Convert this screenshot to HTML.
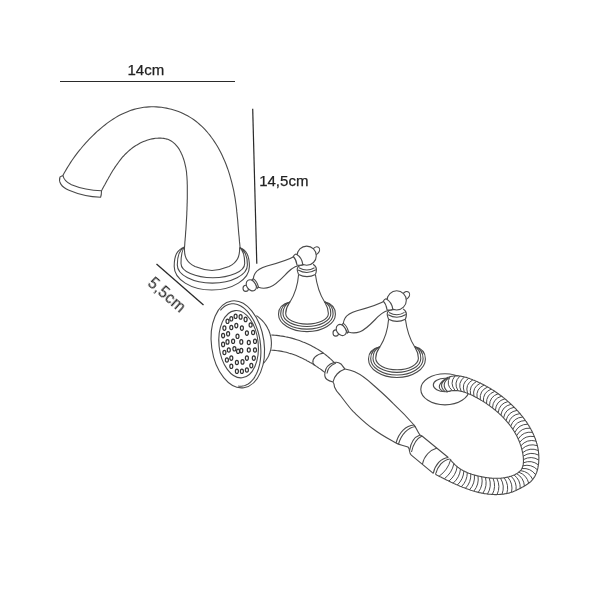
<!DOCTYPE html>
<html><head><meta charset="utf-8"><style>
html,body{margin:0;padding:0;background:#fff;}
svg{display:block;font-family:"Liberation Sans",sans-serif;}
text{will-change:transform;}
</style></head><body>
<svg width="600" height="600" viewBox="0 0 600 600">
<line x1="60" y1="81.5" x2="235" y2="81.5" stroke="#2a2a2a" stroke-width="1.2"/>
<line x1="252.7" y1="108.7" x2="256.8" y2="263.8" stroke="#2a2a2a" stroke-width="1.2"/>
<line x1="156.5" y1="264" x2="203.5" y2="305" stroke="#2a2a2a" stroke-width="1.3"/>
<text x="127.5" y="74.8" font-size="15" fill="#222" stroke="#222" stroke-width="0.25">14cm</text>
<text x="259.2" y="186" font-size="15" fill="#222" stroke="#222" stroke-width="0.25">14,5cm</text>
<text transform="translate(146.8,284.6) rotate(41)" font-size="15.6" letter-spacing="0.3" fill="#222" stroke="#222" stroke-width="0.1">5,5cm</text>
<path stroke="#4a4a4a" stroke-width="1.1" fill="none" d="M63.0,175.3 L64.2,173.1 L65.4,171.0 L66.6,168.9 L67.9,166.8 L69.2,164.7 L70.5,162.6 L71.9,160.5 L73.3,158.5 L74.8,156.4 L76.3,154.4 L77.8,152.4 L79.4,150.4 L81.0,148.5 L82.6,146.5 L84.3,144.6 L86.0,142.7 L87.7,140.8 L89.5,138.9 L91.3,137.1 L93.1,135.3 L95.0,133.5 L96.9,131.7 L98.9,130.0 L100.8,128.3 L102.8,126.6 L104.9,125.0 L106.9,123.4 L109.0,121.9 L111.2,120.4 L113.3,119.0 L115.5,117.6 L117.7,116.3 L120.0,115.1 L122.2,113.9 L124.5,112.9 L126.9,111.9 L129.2,110.9 L131.6,110.1 L134.0,109.4 L136.4,108.7 L138.9,108.2 L141.4,107.7 L143.9,107.3 L146.4,107.1 L148.9,106.9 L151.4,106.8 L153.9,106.8 L156.4,106.9 L158.9,107.1 L161.5,107.3 L164.0,107.7 L166.4,108.1 L168.9,108.7 L171.4,109.3 L173.8,110.0 L176.2,110.7 L178.5,111.6 L180.9,112.5 L183.1,113.6 L185.4,114.7 L187.6,115.8 L189.8,117.1 L191.9,118.4 L193.9,119.8 L195.9,121.3 L197.9,122.8 L199.7,124.5 L201.6,126.1 L203.4,127.9 L205.1,129.7 L206.8,131.5 L208.4,133.5 L210.0,135.4 L211.5,137.5 L213.0,139.5 L214.4,141.6 L215.8,143.8 L217.2,146.0 L218.5,148.2 L219.7,150.5 L220.9,152.8 L222.0,155.1 L223.1,157.5 L224.2,159.9 L225.2,162.3 L226.2,164.7 L227.1,167.2 L228.0,169.6 L228.8,172.1 L229.6,174.6 L230.3,177.1 L231.0,179.6 L231.7,182.1 L232.3,184.6 L232.9,187.1 L233.5,189.6 L234.0,192.1 L234.4,194.6 L234.9,197.1 L235.3,199.6 L235.6,202.0 L236.0,204.5 L236.3,207.0 L236.6,209.4 L236.8,211.9 L237.1,214.4 L237.3,216.8 L237.6,219.3 L237.8,221.8 L238.0,224.3 L238.2,226.7 L238.4,229.2 L238.6,231.7 L238.8,234.3 L239.1,236.8 L239.3,239.3 L239.5,241.9 L239.8,244.4 L240.0,247.0"/>
<path stroke="#4a4a4a" stroke-width="1.1" fill="none" d="M101.5,190.7 L102.3,189.3 L103.1,187.8 L103.9,186.3 L104.8,184.8 L105.6,183.3 L106.4,181.8 L107.2,180.3 L108.1,178.8 L108.9,177.3 L109.8,175.8 L110.6,174.3 L111.5,172.8 L112.4,171.3 L113.3,169.8 L114.3,168.4 L115.2,166.9 L116.2,165.5 L117.2,164.1 L118.2,162.7 L119.2,161.3 L120.3,159.9 L121.3,158.6 L122.4,157.2 L123.6,156.0 L124.8,154.7 L126.0,153.5 L127.2,152.3 L128.5,151.1 L129.8,150.0 L131.2,148.9 L132.6,147.8 L134.0,146.8 L135.5,145.8 L137.0,144.9 L138.6,144.0 L140.2,143.1 L141.8,142.3 L143.5,141.6 L145.2,140.9 L146.9,140.3 L148.6,139.8 L150.3,139.3 L152.0,138.9 L153.8,138.6 L155.5,138.3 L157.2,138.2 L158.9,138.1 L160.6,138.1 L162.2,138.2 L163.8,138.4 L165.4,138.7 L166.9,139.1 L168.4,139.6 L169.8,140.3 L171.2,141.0 L172.5,141.9 L173.7,142.8 L174.9,143.9 L176.0,145.1 L177.1,146.4 L178.1,147.7 L179.1,149.1 L179.9,150.6 L180.8,152.2 L181.5,153.8 L182.3,155.4 L182.9,157.1 L183.5,158.8 L184.1,160.6 L184.6,162.4 L185.0,164.1 L185.4,165.9 L185.8,167.7 L186.1,169.5 L186.4,171.2 L186.6,173.0 L186.7,174.8 L186.9,176.5 L187.0,178.3 L187.1,180.0 L187.2,181.7 L187.2,183.5 L187.3,185.2 L187.3,186.9 L187.3,188.6 L187.3,190.4 L187.3,192.1 L187.3,193.8 L187.3,195.5 L187.3,197.2 L187.3,198.9 L187.2,200.6 L187.2,202.4 L187.1,204.1 L187.1,205.8 L187.0,207.5 L187.0,209.2 L186.9,210.9 L186.8,212.6 L186.8,214.3 L186.7,216.0 L186.6,217.7 L186.5,219.4 L186.4,221.1 L186.3,222.8 L186.2,224.5 L186.1,226.2 L186.0,228.0 L185.9,229.7 L185.7,231.4 L185.6,233.1 L185.5,234.8 L185.4,236.6 L185.2,238.3 L185.1,240.1 L184.9,241.8 L184.8,243.5 L184.7,245.3 L184.5,247.1"/>
<path stroke="#4a4a4a" stroke-width="1.1" fill="none" d="M63,175.5 C62,176 60.3,176.4 60,177 C58.3,181.5 61,187 69,190.3 C76,193.3 86,196.8 100.6,197.3 C101.5,195 101.5,192 101.5,190.8 C92,190.6 80,188.3 71.5,184.8 C66.5,182.3 63.5,179 63,175.5 Z"/>
<path stroke="#4a4a4a" stroke-width="1.1" fill="none" d="M184.5,247 C184,256 186,262 195,266.6 C202,269.5 208,270.3 212,270.5 C216,270.3 222,269.5 229,266.6 C238,262 239.7,256 239.7,247.5"/>
<path stroke="#4a4a4a" stroke-width="1.1" fill="none" d="M184.5,247 C182.40,249.47 181.0,254.43 181.0,263.5 C181.0,271.39 195.27,277.8 212.85,277.8 C230.43,277.8 244.7,271.39 244.7,263.5 C244.7,254.70 242.70,249.90 239.7,247.5"/>
<path stroke="#4a4a4a" stroke-width="1.1" fill="none" d="M184.5,247 C179.46,249.70 177.3,255.10 177.3,265.0 C177.3,274.99 193.00,283.1 212.35,283.1 C231.70,283.1 247.4,274.99 247.4,265.0 C247.4,255.38 245.09,250.12 239.7,247.5"/>
<path stroke="#4a4a4a" stroke-width="1.1" fill="none" d="M184.5,247 C176.77,249.93 174.2,255.78 174.2,266.5 C174.2,279.47 191.04,290.0 211.80,290.0 C232.56,290.0 249.4,279.47 249.4,266.5 C249.4,256.05 246.97,250.35 239.7,247.5"/>
<g transform="translate(0,0)"><path stroke="#4a4a4a" stroke-width="1.1" fill="none" d="M290,302 C281.95,303.83 278.5,307.49 278.5,314.2 C278.5,323.80 291.25,331.6 306.95,331.6 C322.65,331.6 335.4,323.80 335.4,314.2 C335.4,307.38 332.13,303.66 324.5,301.8"/><path stroke="#4a4a4a" stroke-width="1.1" fill="none" d="M290,302 C283.95,303.80 280.7,307.40 280.7,314.0 C280.7,322.34 292.44,329.1 306.90,329.1 C321.36,329.1 333.1,322.34 333.1,314.0 C333.1,307.29 330.09,303.63 324.5,301.8"/><path stroke="#4a4a4a" stroke-width="1.1" fill="none" d="M290,302 C286.15,303.77 283.0,307.31 283.0,313.8 C283.0,320.81 293.71,326.5 306.90,326.5 C320.09,326.5 330.8,320.81 330.8,313.8 C330.8,307.20 327.97,303.60 324.5,301.8"/><path stroke="#4a4a4a" stroke-width="1.1" fill="none" d="M290,302 C288.93,303.74 285.7,307.22 285.7,313.6 C285.7,319.40 295.26,324.1 307.05,324.1 C318.84,324.1 328.4,319.40 328.4,313.6 C328.4,307.11 325.48,303.57 324.5,301.8"/><path stroke="#4a4a4a" stroke-width="1.1" fill="none" d="M298.6,274.5 C297.8,285 295,294 290,302 M315.4,274.5 C316.8,285 319.5,294 324.5,301.8"/><path fill="#fff" stroke="none" d="M302.3,264.4 C299,265.5 297.2,267.5 297.2,269.3 C297.2,271.5 298,273 298.6,274.5 C301,276.8 313,276.8 315.4,274.5 C316,273 316.5,271.5 316.4,269.3 C316.4,267.5 315,265.5 313.1,264.2 Z"/><path stroke="#4a4a4a" stroke-width="1.1" fill="none" d="M302.3,264.4 C299,265.5 297.2,267.5 297.2,269.3 C297.2,271.5 298,273 298.6,274.5 M313.1,264.2 C315,265.5 316.4,267.5 316.4,269.3 C316.5,271.5 316,273 315.4,274.5"/><path stroke="#4a4a4a" stroke-width="1.1" fill="none" d="M299,267.7 Q307,272.3 314.5,267.7 M298.1,270 Q307,275.2 315.9,269.8 M298.6,274.5 Q307,278.8 315.4,274.5"/><ellipse cx="315.8" cy="250.8" rx="3.3" ry="4.4" transform="rotate(40 315.8 250.8)" stroke="#4a4a4a" stroke-width="1.1" fill="#fff"/><circle cx="306.7" cy="255.7" r="9.6" stroke="#4a4a4a" stroke-width="1.1" fill="#fff"/><path stroke="#4a4a4a" stroke-width="1.1" fill="#fff" d="M296,255.5 C291,258.5 282,262 267,266 C262,267.5 257,270 255,273.5 C253.8,275.5 253.3,278.7 253.3,278.7 L258.5,287.3 C262,288.5 266,288.5 270,287 C276,285 282,278 288,272 C292,268 297,265 302.7,265 Z"/><path stroke="#4a4a4a" stroke-width="1.1" fill="#fff" d="M293.3,256.5 C294,255 295,254.3 296,254 C299.5,256 302.3,260 302.8,264.5 C301.5,265.5 299.5,265.5 297,265 C296.5,261.5 295.3,258.5 293.3,256.5 Z"/><ellipse cx="245.8" cy="288.3" rx="2.8" ry="3.1" stroke="#4a4a4a" stroke-width="1.1" fill="#fff"/><ellipse cx="251.3" cy="285.3" rx="4.6" ry="6" transform="rotate(-35 251.3 285.3)" stroke="#4a4a4a" stroke-width="1.1" fill="#fff"/><path stroke="#4a4a4a" stroke-width="1.1" fill="#fff" d="M253.3,278.7 C255.5,280 257.5,283 258.5,287.3 L257.3,288.3 C256,284.5 254.5,281.5 252,280 Z"/></g>
<g transform="translate(90,44.7)"><path stroke="#4a4a4a" stroke-width="1.1" fill="none" d="M290,302 C281.95,303.83 278.5,307.49 278.5,314.2 C278.5,324.47 291.25,332.8 306.95,332.8 C322.65,332.8 335.4,324.47 335.4,314.2 C335.4,307.38 332.13,303.66 324.5,301.8"/><path stroke="#4a4a4a" stroke-width="1.1" fill="none" d="M290,302 C283.95,303.80 280.7,307.40 280.7,314.0 C280.7,323.00 292.44,330.3 306.90,330.3 C321.36,330.3 333.1,323.00 333.1,314.0 C333.1,307.29 330.09,303.63 324.5,301.8"/><path stroke="#4a4a4a" stroke-width="1.1" fill="none" d="M290,302 C286.15,303.77 283.0,307.31 283.0,313.8 C283.0,321.47 293.71,327.7 306.90,327.7 C320.09,327.7 330.8,321.47 330.8,313.8 C330.8,307.20 327.97,303.60 324.5,301.8"/><path stroke="#4a4a4a" stroke-width="1.1" fill="none" d="M290,302 C288.93,303.74 285.7,307.22 285.7,313.6 C285.7,319.93 295.26,325.06 307.05,325.06 C318.84,325.06 328.4,319.93 328.4,313.6 C328.4,307.11 325.48,303.57 324.5,301.8"/><path stroke="#4a4a4a" stroke-width="1.1" fill="none" d="M298.6,274.5 C297.8,285 295,294 290,302 M315.4,274.5 C316.8,285 319.5,294 324.5,301.8"/><path fill="#fff" stroke="none" d="M302.3,264.4 C299,265.5 297.2,267.5 297.2,269.3 C297.2,271.5 298,273 298.6,274.5 C301,276.8 313,276.8 315.4,274.5 C316,273 316.5,271.5 316.4,269.3 C316.4,267.5 315,265.5 313.1,264.2 Z"/><path stroke="#4a4a4a" stroke-width="1.1" fill="none" d="M302.3,264.4 C299,265.5 297.2,267.5 297.2,269.3 C297.2,271.5 298,273 298.6,274.5 M313.1,264.2 C315,265.5 316.4,267.5 316.4,269.3 C316.5,271.5 316,273 315.4,274.5"/><path stroke="#4a4a4a" stroke-width="1.1" fill="none" d="M299,267.7 Q307,272.3 314.5,267.7 M298.1,270 Q307,275.2 315.9,269.8 M298.6,274.5 Q307,278.8 315.4,274.5"/><ellipse cx="315.8" cy="250.8" rx="3.3" ry="4.4" transform="rotate(40 315.8 250.8)" stroke="#4a4a4a" stroke-width="1.1" fill="#fff"/><circle cx="306.7" cy="255.7" r="9.6" stroke="#4a4a4a" stroke-width="1.1" fill="#fff"/><path stroke="#4a4a4a" stroke-width="1.1" fill="#fff" d="M296,255.5 C291,258.5 282,262 267,266 C262,267.5 257,270 255,273.5 C253.8,275.5 253.3,278.7 253.3,278.7 L258.5,287.3 C262,288.5 266,288.5 270,287 C276,285 282,278 288,272 C292,268 297,265 302.7,265 Z"/><path stroke="#4a4a4a" stroke-width="1.1" fill="#fff" d="M293.3,256.5 C294,255 295,254.3 296,254 C299.5,256 302.3,260 302.8,264.5 C301.5,265.5 299.5,265.5 297,265 C296.5,261.5 295.3,258.5 293.3,256.5 Z"/><ellipse cx="245.8" cy="288.3" rx="2.8" ry="3.1" stroke="#4a4a4a" stroke-width="1.1" fill="#fff"/><ellipse cx="251.3" cy="285.3" rx="4.6" ry="6" transform="rotate(-35 251.3 285.3)" stroke="#4a4a4a" stroke-width="1.1" fill="#fff"/><path stroke="#4a4a4a" stroke-width="1.1" fill="#fff" d="M253.3,278.7 C255.5,280 257.5,283 258.5,287.3 L257.3,288.3 C256,284.5 254.5,281.5 252,280 Z"/></g>
<path stroke="#4a4a4a" stroke-width="1.1" fill="none" d="M256.3,315.6 L257.6,316.4 L258.8,317.3 L259.9,318.3 L261.0,319.3 L262.1,320.3 L263.0,321.4 L264.0,322.5 L264.9,323.7 L265.7,324.9 L266.5,326.1 L267.3,327.4 L267.9,328.7 L268.6,330.0 L269.1,331.3 L269.6,332.7 L270.1,334.1 L270.4,335.5 L270.8,336.9 L271.0,338.3 L271.2,339.7 L271.3,341.1 L271.4,342.6 L271.4,344.0 L271.3,345.4 L271.2,346.9 L271.0,348.3 L270.7,349.7 L270.3,351.1 L269.9,352.5 L269.4,353.8 L268.9,355.2 L268.3,356.5 L267.6,357.8 L266.8,359.0 L266.0,360.3 L265.0,361.5 L264.1,362.6 L263.0,363.7 L261.9,364.8"/>
<path stroke="#4a4a4a" stroke-width="1.1" fill="none" d="M271.3,335.0 L273.1,335.1 L274.9,335.3 L276.6,335.4 L278.4,335.6 L280.2,335.9 L281.9,336.1 L283.7,336.4 L285.5,336.8 L287.2,337.1 L289.0,337.5 L290.7,337.9 L292.5,338.4 L294.2,338.9 L295.9,339.4 L297.7,340.0 L299.4,340.6 L301.1,341.2 L302.8,341.9 L304.5,342.5 L306.1,343.2 L307.8,344.0 L309.4,344.8 L311.0,345.6 L312.6,346.4 L314.2,347.3 L315.8,348.2 L317.3,349.1 L318.9,350.0 L320.4,351.0 L321.9,352.0 L323.3,353.1 L324.8,354.1 L326.2,355.2 L327.6,356.3 L328.9,357.5 L330.2,358.7 L331.6,359.9 L332.8,361.1 L334.1,362.4"/>
<path stroke="#4a4a4a" stroke-width="1.1" fill="none" d="M271.3,350.3 L272.8,350.3 L274.4,350.4 L275.9,350.5 L277.4,350.7 L278.9,350.9 L280.4,351.1 L281.9,351.4 L283.4,351.7 L284.8,352.0 L286.3,352.3 L287.8,352.7 L289.2,353.2 L290.7,353.6 L292.1,354.1 L293.5,354.6 L294.9,355.1 L296.3,355.6 L297.8,356.2 L299.1,356.8 L300.5,357.4 L301.9,358.1 L303.3,358.7 L304.6,359.4 L306.0,360.1 L307.3,360.9 L308.6,361.6 L310.0,362.4 L311.3,363.1 L312.6,363.9 L313.9,364.7 L315.1,365.5 L316.4,366.4 L317.7,367.2 L318.9,368.1 L320.2,368.9 L321.4,369.8 L322.6,370.7 L323.8,371.6 L325.0,372.5"/>
<path stroke="#4a4a4a" stroke-width="1.1" fill="none" d="M324,353 C316,354 312,359 313,363 C313.3,364 314,364.5 314.5,365"/>
<ellipse cx="237.8" cy="344.3" rx="26.3" ry="43.8" transform="rotate(-8 237.8 344.3)" stroke="#4a4a4a" stroke-width="1.1" fill="#fff"/>
<path stroke="#4a4a4a" stroke-width="1.1" fill="none" d="M220.4,310.3 L221.3,309.3 L222.2,308.3 L223.2,307.5 L224.1,306.7 L225.2,306.0 L226.2,305.4 L227.2,304.9 L228.3,304.5 L229.4,304.2 L230.5,304.0 L231.6,303.8 L232.8,303.8 L233.9,303.8 L235.1,304.0 L236.2,304.2 L237.4,304.5 L238.5,304.9 L239.7,305.5 L240.8,306.1 L241.9,306.7 L243.1,307.5 L244.2,308.4 L245.3,309.3 L246.3,310.3 L247.4,311.4 L248.4,312.6 L249.4,313.9 L250.4,315.2 L251.3,316.6 L252.2,318.0 L253.1,319.5 L253.9,321.1 L254.7,322.7 L255.4,324.4 L256.1,326.1 L256.8,327.9 L257.4,329.7 L258.0,331.5 L258.5,333.4 L259.0,335.3 L259.4,337.2 L259.8,339.1 L260.1,341.1 L260.3,343.1 L260.6,345.0 L260.7,347.0 L260.8,348.9 L260.9,350.9 L260.9,352.8 L260.8,354.7 L260.7,356.6 L260.5,358.5 L260.3,360.3 L260.0,362.1 L259.7,363.9 L259.3,365.6 L258.8,367.3 L258.4,368.9 L257.8,370.5 L257.2,372.0 L256.6,373.4 L255.9,374.8 L255.2,376.1 L254.5,377.4 L253.7,378.6 L252.8,379.7 L251.9,380.7 L251.0,381.6 L250.1,382.5 L249.1,383.3 L248.1,384.0 L247.1,384.6 L246.0,385.1 L244.9,385.5 L243.9,385.8 L242.7,386.0 L241.6,386.2 L240.5,386.2 L239.3,386.2 L238.2,386.0"/>
<ellipse cx="238.6" cy="344.2" rx="19.6" ry="33.8" transform="rotate(-6 238.6 344.2)" stroke="#4a4a4a" stroke-width="1.1" fill="none"/>
<ellipse cx="227.5" cy="321.3" rx="1.5" ry="2.2" stroke="#333" stroke-width="1.2" fill="none"/>
<ellipse cx="231.3" cy="318.8" rx="1.5" ry="2.2" stroke="#333" stroke-width="1.2" fill="none"/>
<ellipse cx="235.6" cy="316.3" rx="1.5" ry="2.2" stroke="#333" stroke-width="1.2" fill="none"/>
<ellipse cx="240.6" cy="316.9" rx="1.5" ry="2.2" stroke="#333" stroke-width="1.2" fill="none"/>
<ellipse cx="245.6" cy="319.4" rx="1.5" ry="2.2" stroke="#333" stroke-width="1.2" fill="none"/>
<ellipse cx="250.6" cy="325" rx="1.5" ry="2.2" stroke="#333" stroke-width="1.2" fill="none"/>
<ellipse cx="253.1" cy="332.5" rx="1.5" ry="2.2" stroke="#333" stroke-width="1.2" fill="none"/>
<ellipse cx="255" cy="341.3" rx="1.5" ry="2.2" stroke="#333" stroke-width="1.2" fill="none"/>
<ellipse cx="255" cy="350" rx="1.5" ry="2.2" stroke="#333" stroke-width="1.2" fill="none"/>
<ellipse cx="253.8" cy="358.1" rx="1.5" ry="2.2" stroke="#333" stroke-width="1.2" fill="none"/>
<ellipse cx="251.3" cy="365.6" rx="1.5" ry="2.2" stroke="#333" stroke-width="1.2" fill="none"/>
<ellipse cx="246.9" cy="370" rx="1.5" ry="2.2" stroke="#333" stroke-width="1.2" fill="none"/>
<ellipse cx="241.9" cy="371.3" rx="1.5" ry="2.2" stroke="#333" stroke-width="1.2" fill="none"/>
<ellipse cx="236.9" cy="371.3" rx="1.5" ry="2.2" stroke="#333" stroke-width="1.2" fill="none"/>
<ellipse cx="231.3" cy="366.3" rx="1.5" ry="2.2" stroke="#333" stroke-width="1.2" fill="none"/>
<ellipse cx="226.9" cy="360" rx="1.5" ry="2.2" stroke="#333" stroke-width="1.2" fill="none"/>
<ellipse cx="224.4" cy="352.5" rx="1.5" ry="2.2" stroke="#333" stroke-width="1.2" fill="none"/>
<ellipse cx="223.1" cy="344.4" rx="1.5" ry="2.2" stroke="#333" stroke-width="1.2" fill="none"/>
<ellipse cx="223.1" cy="335.6" rx="1.5" ry="2.2" stroke="#333" stroke-width="1.2" fill="none"/>
<ellipse cx="224.4" cy="328.1" rx="1.5" ry="2.2" stroke="#333" stroke-width="1.2" fill="none"/>
<ellipse cx="231.3" cy="327.5" rx="1.5" ry="2.2" stroke="#333" stroke-width="1.2" fill="none"/>
<ellipse cx="236.3" cy="325.6" rx="1.5" ry="2.2" stroke="#333" stroke-width="1.2" fill="none"/>
<ellipse cx="241.9" cy="328.1" rx="1.5" ry="2.2" stroke="#333" stroke-width="1.2" fill="none"/>
<ellipse cx="246.9" cy="333.1" rx="1.5" ry="2.2" stroke="#333" stroke-width="1.2" fill="none"/>
<ellipse cx="248.8" cy="342.5" rx="1.5" ry="2.2" stroke="#333" stroke-width="1.2" fill="none"/>
<ellipse cx="248.8" cy="350" rx="1.5" ry="2.2" stroke="#333" stroke-width="1.2" fill="none"/>
<ellipse cx="246.9" cy="358.1" rx="1.5" ry="2.2" stroke="#333" stroke-width="1.2" fill="none"/>
<ellipse cx="242.5" cy="361.9" rx="1.5" ry="2.2" stroke="#333" stroke-width="1.2" fill="none"/>
<ellipse cx="236.9" cy="362.5" rx="1.5" ry="2.2" stroke="#333" stroke-width="1.2" fill="none"/>
<ellipse cx="231.3" cy="358.1" rx="1.5" ry="2.2" stroke="#333" stroke-width="1.2" fill="none"/>
<ellipse cx="228.8" cy="350" rx="1.5" ry="2.2" stroke="#333" stroke-width="1.2" fill="none"/>
<ellipse cx="227.5" cy="341.9" rx="1.5" ry="2.2" stroke="#333" stroke-width="1.2" fill="none"/>
<ellipse cx="228.1" cy="333.8" rx="1.5" ry="2.2" stroke="#333" stroke-width="1.2" fill="none"/>
<ellipse cx="237.5" cy="336.3" rx="1.5" ry="2.2" stroke="#333" stroke-width="1.2" fill="none"/>
<ellipse cx="241.3" cy="341.9" rx="1.5" ry="2.2" stroke="#333" stroke-width="1.2" fill="none"/>
<ellipse cx="233.1" cy="341.3" rx="1.5" ry="2.2" stroke="#333" stroke-width="1.2" fill="none"/>
<ellipse cx="234.4" cy="348.8" rx="1.5" ry="2.2" stroke="#333" stroke-width="1.2" fill="none"/>
<ellipse cx="238.1" cy="351.3" rx="1.5" ry="2.2" stroke="#333" stroke-width="1.2" fill="none"/>
<ellipse cx="241.3" cy="350.6" rx="1.5" ry="2.2" stroke="#333" stroke-width="1.2" fill="none"/>
<path stroke="#4a4a4a" stroke-width="1.1" fill="none" d="M334,362.5 C336,362 339,362.3 341,364 C342.5,365.5 343,367 345,369 M325,372.5 C324.5,375 325,378 327,379.5 C329,381 331,381.5 333,382"/>
<path stroke="#4a4a4a" stroke-width="1.1" fill="none" d="M334,362.5 C329,364 325.5,368 325,372.5 M336,363 C331,365 327.5,369 327,373.5"/>
<path stroke="#4a4a4a" stroke-width="1.1" fill="none" d="M345,369 C339,371 334,376 333,382"/>
<path stroke="#4a4a4a" stroke-width="1.1" fill="none" d="M345,369 C348,369.5 352,370.5 354.7,371.7 C362,375 368,380 373.3,385 C380,391 387,397 393.3,403.7 C400,410 407,417 414,425"/>
<path stroke="#4a4a4a" stroke-width="1.1" fill="none" d="M333,382 C334.5,384 334.5,386 334.5,387 C336,391 338,393 340,395 C344,400 348,406 353.3,411.7 C360,418 366,424 373.3,429 C381,435 389,439 396,443"/>
<path stroke="#4a4a4a" stroke-width="1.1" fill="none" d="M414,425 C406,425.5 399,432 396,443 M415.5,426.5 C408,427.5 401.5,434 398.5,444"/>
<path stroke="#4a4a4a" stroke-width="1.1" fill="none" d="M414,425 C416,427 417,431 420,435 M396,443 C399,445 403,445 408,447 C409,448 409.5,450 409.5,451"/>
<path stroke="#4a4a4a" stroke-width="1.1" fill="none" d="M420,435 C414,437 410.5,444 409.5,451 M422,436 C416.5,438.5 413,445 411.5,452"/>
<path stroke="#4a4a4a" stroke-width="1.1" fill="none" d="M420,435 C421,435.5 421.5,435.6 422,436 L448.3,457.5 M409.5,451 C409.8,453 410.2,454.2 411.3,455.2 L433.3,473.3"/>
<path stroke="#4a4a4a" stroke-width="1.1" fill="none" d="M437,448 C430,450 424,456 422.5,464"/>
<path stroke="#4a4a4a" stroke-width="1.1" fill="none" d="M448.3,457.5 C441,458 435,465 433.3,473.3 M450,459 C443,460 437.5,466 435.5,474.5"/>
<ellipse cx="445" cy="389.3" rx="24.2" ry="15.6" stroke="#4a4a4a" stroke-width="1.1" fill="none"/>
<ellipse cx="445" cy="385" rx="11.7" ry="6.7" stroke="#4a4a4a" stroke-width="1.1" fill="none"/>
<path d="M435.6,474.4 L436.4,474.8 L437.1,475.2 L437.9,475.6 L438.6,476.0 L439.4,476.4 L440.2,476.8 L440.9,477.1 L441.7,477.5 L442.5,477.9 L443.3,478.3 L444.0,478.7 L444.8,479.1 L445.6,479.5 L446.4,479.9 L447.2,480.3 L448.0,480.6 L448.7,481.0 L449.5,481.4 L450.3,481.8 L451.1,482.2 L451.9,482.5 L452.7,482.9 L453.5,483.3 L454.3,483.7 L455.2,484.0 L456.0,484.4 L456.8,484.7 L457.6,485.1 L458.4,485.5 L459.2,485.8 L460.0,486.2 L460.9,486.5 L461.7,486.8 L462.5,487.2 L463.3,487.5 L464.2,487.8 L465.0,488.1 L465.8,488.4 L466.6,488.7 L467.5,489.0 L468.3,489.3 L469.2,489.6 L470.0,489.9 L470.8,490.2 L471.7,490.5 L472.5,490.7 L473.4,491.0 L474.2,491.2 L475.1,491.5 L475.9,491.7 L476.7,491.9 L477.6,492.1 L478.4,492.4 L479.3,492.6 L480.2,492.7 L481.0,492.9 L481.9,493.1 L482.7,493.3 L483.6,493.4 L484.4,493.6 L485.3,493.7 L486.2,493.8 L487.0,494.0 L487.9,494.1 L488.7,494.2 L489.6,494.3 L490.5,494.3 L491.3,494.4 L492.2,494.5 L493.1,494.5 L493.9,494.5 L494.8,494.6 L495.7,494.6 L496.6,494.6 L497.4,494.5 L498.3,494.5 L499.2,494.5 L500.0,494.4 L500.9,494.4 L501.8,494.3 L502.7,494.2 L503.5,494.1 L504.4,493.9 L505.3,493.8 L506.1,493.6 L507.0,493.5 L507.8,493.3 L508.7,493.1 L509.5,492.9 L510.4,492.6 L511.2,492.3 L512.0,492.1 L512.9,491.8 L513.7,491.4 L514.5,491.1 L515.3,490.7 L516.1,490.4 L516.9,490.0 L517.7,489.6 L518.5,489.2 L519.3,488.8 L520.1,488.4 L520.9,488.0 L521.7,487.5 L522.5,487.1 L523.3,486.7 L524.1,486.2 L524.9,485.8 L525.7,485.3 L526.4,484.8 L527.2,484.3 L527.9,483.8 L528.6,483.3 L529.3,482.7 L530.0,482.2 L530.7,481.6 L531.3,481.0 L531.9,480.4 L532.5,479.7 L533.0,479.0 L533.5,478.3 L534.0,477.6 L534.5,476.9 L534.9,476.2 L535.3,475.4 L535.7,474.6 L536.0,473.8 L536.4,473.0 L536.7,472.2 L537.0,471.3 L537.2,470.5 L537.5,469.6 L537.7,468.8 L537.9,467.9 L538.0,467.0 L538.2,466.2 L538.3,465.3 L538.5,464.4 L538.6,463.5 L538.7,462.6 L538.7,461.8 L538.8,460.9 L538.8,460.0 L538.8,459.1 L538.9,458.3 L538.9,457.4 L538.8,456.5 L538.8,455.6 L538.7,454.8 L538.7,453.9 L538.6,453.1 L538.5,452.2 L538.4,451.3 L538.3,450.5 L538.2,449.6 L538.0,448.8 L537.9,447.9 L537.7,447.1 L537.5,446.3 L537.3,445.4 L537.1,444.6 L536.9,443.7 L536.6,442.9 L536.4,442.1 L536.1,441.3 L535.8,440.4 L535.6,439.6 L535.3,438.8 L535.0,438.0 L534.6,437.2 L534.3,436.4 L534.0,435.6 L533.6,434.8 L533.3,434.0 L532.9,433.2 L532.5,432.4 L532.1,431.6 L531.7,430.8 L531.3,430.0 L530.9,429.3 L530.5,428.5 L530.0,427.7 L529.6,426.9 L529.1,426.2 L528.7,425.4 L528.2,424.7 L527.7,423.9 L527.2,423.2 L526.8,422.4 L526.3,421.7 L525.7,421.0 L525.2,420.2 L524.7,419.5 L524.2,418.8 L523.6,418.1 L523.1,417.4 L522.5,416.7 L522.0,416.0 L521.4,415.3 L520.8,414.6 L520.3,413.9 L519.7,413.2 L519.1,412.5 L518.5,411.9 L517.9,411.2 L517.3,410.5 L516.7,409.9 L516.1,409.2 L515.5,408.6 L514.8,407.9 L514.2,407.3 L513.6,406.7 L513.0,406.1 L512.3,405.4 L511.7,404.8 L511.0,404.2 L510.4,403.6 L509.7,403.0 L509.1,402.4 L508.4,401.8 L507.8,401.3 L507.1,400.7 L506.5,400.1 L505.8,399.5 L505.1,399.0 L504.4,398.4 L503.8,397.9 L503.1,397.4 L502.4,396.8 L501.7,396.3 L501.0,395.8 L500.3,395.2 L499.6,394.7 L498.9,394.2 L498.2,393.7 L497.5,393.2 L496.8,392.7 L496.1,392.2 L495.4,391.8 L494.7,391.3 L494.0,390.8 L493.2,390.3 L492.5,389.9 L491.8,389.4 L491.0,389.0 L490.3,388.5 L489.6,388.1 L488.8,387.6 L488.1,387.2 L487.3,386.8 L486.5,386.4 L485.8,385.9 L485.0,385.5 L484.2,385.1 L483.5,384.7 L482.7,384.3 L481.9,383.9 L481.1,383.5 L480.3,383.1 L479.5,382.7 L478.7,382.4 L477.9,382.0 L477.1,381.6 L476.3,381.3 L475.5,380.9 L474.7,380.6 L473.9,380.2 L473.0,379.9 L472.2,379.5 L471.4,379.2 L470.5,378.9 L469.7,378.6 L468.9,378.3 L468.0,378.0 L467.2,377.7 L466.3,377.4 L465.5,377.2 L464.6,377.0 L463.8,376.8 L462.9,376.6 L462.0,376.4 L461.2,376.2 L460.3,376.1 L459.4,376.0 L458.6,375.9 L457.7,375.9 L456.9,375.9 L456.0,375.9 L455.1,375.9 L454.3,375.9 L453.4,376.0 L452.5,376.2 L451.7,376.3 L450.8,376.5 L449.9,376.7 L449.1,377.0 L448.2,377.3 L447.4,377.6 L446.5,378.0 L446.0,392.0 L446.7,391.8 L447.4,391.6 L448.1,391.4 L448.8,391.2 L449.5,391.1 L450.2,390.9 L450.9,390.8 L451.6,390.7 L452.3,390.7 L453.0,390.6 L453.7,390.6 L454.3,390.6 L455.0,390.6 L455.7,390.6 L456.3,390.6 L457.0,390.6 L457.7,390.7 L458.3,390.8 L459.0,390.9 L459.6,391.0 L460.3,391.1 L460.9,391.2 L461.6,391.4 L462.2,391.5 L462.9,391.7 L463.5,391.9 L464.1,392.1 L464.8,392.3 L465.4,392.5 L466.0,392.7 L466.7,392.9 L467.3,393.2 L467.9,393.4 L468.5,393.7 L469.2,393.9 L469.8,394.2 L470.4,394.5 L471.0,394.8 L471.6,395.0 L472.2,395.3 L472.8,395.6 L473.4,395.9 L474.0,396.2 L474.6,396.6 L475.2,396.9 L475.8,397.2 L476.4,397.5 L477.0,397.8 L477.6,398.2 L478.2,398.5 L478.8,398.8 L479.4,399.2 L480.0,399.5 L480.6,399.9 L481.2,400.2 L481.8,400.6 L482.3,400.9 L482.9,401.3 L483.5,401.6 L484.1,402.0 L484.6,402.4 L485.2,402.8 L485.8,403.1 L486.4,403.5 L486.9,403.9 L487.5,404.3 L488.0,404.7 L488.6,405.1 L489.2,405.5 L489.7,405.9 L490.3,406.3 L490.8,406.7 L491.4,407.1 L491.9,407.5 L492.4,407.9 L493.0,408.3 L493.5,408.7 L494.0,409.2 L494.6,409.6 L495.1,410.0 L495.6,410.4 L496.1,410.9 L496.7,411.3 L497.2,411.8 L497.7,412.2 L498.2,412.7 L498.7,413.1 L499.2,413.6 L499.7,414.0 L500.2,414.5 L500.7,414.9 L501.2,415.4 L501.7,415.9 L502.1,416.4 L502.6,416.8 L503.1,417.3 L503.6,417.8 L504.0,418.3 L504.5,418.8 L504.9,419.3 L505.4,419.8 L505.9,420.3 L506.3,420.8 L506.7,421.3 L507.2,421.8 L507.6,422.3 L508.0,422.8 L508.5,423.3 L508.9,423.9 L509.3,424.4 L509.7,424.9 L510.1,425.5 L510.5,426.0 L510.9,426.5 L511.3,427.1 L511.7,427.6 L512.1,428.2 L512.5,428.7 L512.8,429.3 L513.2,429.8 L513.6,430.4 L513.9,431.0 L514.3,431.5 L514.6,432.1 L514.9,432.7 L515.3,433.3 L515.6,433.9 L515.9,434.4 L516.3,435.0 L516.6,435.6 L516.9,436.2 L517.2,436.8 L517.5,437.4 L517.8,438.0 L518.0,438.6 L518.3,439.3 L518.6,439.9 L518.9,440.5 L519.1,441.1 L519.4,441.7 L519.6,442.4 L519.9,443.0 L520.1,443.7 L520.3,444.3 L520.5,444.9 L520.8,445.6 L521.0,446.2 L521.2,446.9 L521.4,447.6 L521.6,448.2 L521.7,448.9 L521.9,449.6 L522.1,450.2 L522.2,450.9 L522.4,451.6 L522.5,452.3 L522.7,453.0 L522.8,453.6 L522.9,454.3 L523.0,455.0 L523.1,455.7 L523.2,456.4 L523.3,457.1 L523.3,457.8 L523.4,458.5 L523.4,459.2 L523.4,459.9 L523.5,460.6 L523.5,461.3 L523.4,462.0 L523.4,462.7 L523.3,463.3 L523.3,464.0 L523.2,464.7 L523.0,465.3 L522.9,466.0 L522.7,466.6 L522.5,467.2 L522.3,467.8 L522.0,468.4 L521.7,468.9 L521.4,469.5 L521.0,470.0 L520.6,470.5 L520.2,470.9 L519.7,471.4 L519.2,471.8 L518.7,472.2 L518.2,472.6 L517.6,473.0 L517.1,473.4 L516.5,473.7 L515.9,474.0 L515.3,474.4 L514.6,474.7 L514.0,474.9 L513.4,475.2 L512.7,475.5 L512.1,475.7 L511.5,476.0 L510.8,476.2 L510.2,476.4 L509.5,476.6 L508.9,476.8 L508.2,477.0 L507.5,477.1 L506.9,477.3 L506.2,477.4 L505.5,477.5 L504.9,477.7 L504.2,477.8 L503.5,477.9 L502.9,478.0 L502.2,478.0 L501.5,478.1 L500.8,478.2 L500.2,478.2 L499.5,478.3 L498.8,478.3 L498.1,478.3 L497.4,478.3 L496.8,478.3 L496.1,478.3 L495.4,478.3 L494.7,478.3 L494.0,478.3 L493.3,478.3 L492.7,478.2 L492.0,478.2 L491.3,478.1 L490.6,478.1 L489.9,478.0 L489.2,477.9 L488.6,477.8 L487.9,477.8 L487.2,477.7 L486.5,477.6 L485.8,477.5 L485.2,477.4 L484.5,477.2 L483.8,477.1 L483.1,477.0 L482.4,476.9 L481.8,476.8 L481.1,476.6 L480.4,476.5 L479.8,476.3 L479.1,476.2 L478.4,476.0 L477.8,475.9 L477.1,475.7 L476.5,475.6 L475.8,475.4 L475.1,475.2 L474.5,475.0 L473.8,474.8 L473.2,474.7 L472.6,474.5 L471.9,474.3 L471.3,474.1 L470.6,473.8 L470.0,473.6 L469.4,473.4 L468.8,473.2 L468.1,472.9 L467.5,472.7 L466.9,472.4 L466.3,472.1 L465.7,471.9 L465.1,471.6 L464.5,471.3 L463.9,471.0 L463.3,470.7 L462.8,470.4 L462.2,470.1 L461.6,469.7 L461.0,469.4 L460.5,469.0 L459.9,468.7 L459.4,468.3 L458.8,467.9 L458.3,467.5 L457.7,467.1 L457.2,466.7 L456.7,466.3 L456.2,465.8 L455.7,465.4 L455.1,464.9 L454.6,464.4 L454.2,464.0 L453.7,463.5 L453.2,462.9 L452.7,462.4 L452.2,461.9 L451.8,461.3 L451.3,460.8 L450.9,460.2 L450.4,459.6 L450.0,459.0 Z" fill="#fff" stroke="none"/>
<path stroke="#4a4a4a" stroke-width="1.1" fill="none" d="M435.6,474.4 L436.4,474.8 L437.1,475.2 L437.9,475.6 L438.6,476.0 L439.4,476.4 L440.2,476.8 L440.9,477.1 L441.7,477.5 L442.5,477.9 L443.3,478.3 L444.0,478.7 L444.8,479.1 L445.6,479.5 L446.4,479.9 L447.2,480.3 L448.0,480.6 L448.7,481.0 L449.5,481.4 L450.3,481.8 L451.1,482.2 L451.9,482.5 L452.7,482.9 L453.5,483.3 L454.3,483.7 L455.2,484.0 L456.0,484.4 L456.8,484.7 L457.6,485.1 L458.4,485.5 L459.2,485.8 L460.0,486.2 L460.9,486.5 L461.7,486.8 L462.5,487.2 L463.3,487.5 L464.2,487.8 L465.0,488.1 L465.8,488.4 L466.6,488.7 L467.5,489.0 L468.3,489.3 L469.2,489.6 L470.0,489.9 L470.8,490.2 L471.7,490.5 L472.5,490.7 L473.4,491.0 L474.2,491.2 L475.1,491.5 L475.9,491.7 L476.7,491.9 L477.6,492.1 L478.4,492.4 L479.3,492.6 L480.2,492.7 L481.0,492.9 L481.9,493.1 L482.7,493.3 L483.6,493.4 L484.4,493.6 L485.3,493.7 L486.2,493.8 L487.0,494.0 L487.9,494.1 L488.7,494.2 L489.6,494.3 L490.5,494.3 L491.3,494.4 L492.2,494.5 L493.1,494.5 L493.9,494.5 L494.8,494.6 L495.7,494.6 L496.6,494.6 L497.4,494.5 L498.3,494.5 L499.2,494.5 L500.0,494.4 L500.9,494.4 L501.8,494.3 L502.7,494.2 L503.5,494.1 L504.4,493.9 L505.3,493.8 L506.1,493.6 L507.0,493.5 L507.8,493.3 L508.7,493.1 L509.5,492.9 L510.4,492.6 L511.2,492.3 L512.0,492.1 L512.9,491.8 L513.7,491.4 L514.5,491.1 L515.3,490.7 L516.1,490.4 L516.9,490.0 L517.7,489.6 L518.5,489.2 L519.3,488.8 L520.1,488.4 L520.9,488.0 L521.7,487.5 L522.5,487.1 L523.3,486.7 L524.1,486.2 L524.9,485.8 L525.7,485.3 L526.4,484.8 L527.2,484.3 L527.9,483.8 L528.6,483.3 L529.3,482.7 L530.0,482.2 L530.7,481.6 L531.3,481.0 L531.9,480.4 L532.5,479.7 L533.0,479.0 L533.5,478.3 L534.0,477.6 L534.5,476.9 L534.9,476.2 L535.3,475.4 L535.7,474.6 L536.0,473.8 L536.4,473.0 L536.7,472.2 L537.0,471.3 L537.2,470.5 L537.5,469.6 L537.7,468.8 L537.9,467.9 L538.0,467.0 L538.2,466.2 L538.3,465.3 L538.5,464.4 L538.6,463.5 L538.7,462.6 L538.7,461.8 L538.8,460.9 L538.8,460.0 L538.8,459.1 L538.9,458.3 L538.9,457.4 L538.8,456.5 L538.8,455.6 L538.7,454.8 L538.7,453.9 L538.6,453.1 L538.5,452.2 L538.4,451.3 L538.3,450.5 L538.2,449.6 L538.0,448.8 L537.9,447.9 L537.7,447.1 L537.5,446.3 L537.3,445.4 L537.1,444.6 L536.9,443.7 L536.6,442.9 L536.4,442.1 L536.1,441.3 L535.8,440.4 L535.6,439.6 L535.3,438.8 L535.0,438.0 L534.6,437.2 L534.3,436.4 L534.0,435.6 L533.6,434.8 L533.3,434.0 L532.9,433.2 L532.5,432.4 L532.1,431.6 L531.7,430.8 L531.3,430.0 L530.9,429.3 L530.5,428.5 L530.0,427.7 L529.6,426.9 L529.1,426.2 L528.7,425.4 L528.2,424.7 L527.7,423.9 L527.2,423.2 L526.8,422.4 L526.3,421.7 L525.7,421.0 L525.2,420.2 L524.7,419.5 L524.2,418.8 L523.6,418.1 L523.1,417.4 L522.5,416.7 L522.0,416.0 L521.4,415.3 L520.8,414.6 L520.3,413.9 L519.7,413.2 L519.1,412.5 L518.5,411.9 L517.9,411.2 L517.3,410.5 L516.7,409.9 L516.1,409.2 L515.5,408.6 L514.8,407.9 L514.2,407.3 L513.6,406.7 L513.0,406.1 L512.3,405.4 L511.7,404.8 L511.0,404.2 L510.4,403.6 L509.7,403.0 L509.1,402.4 L508.4,401.8 L507.8,401.3 L507.1,400.7 L506.5,400.1 L505.8,399.5 L505.1,399.0 L504.4,398.4 L503.8,397.9 L503.1,397.4 L502.4,396.8 L501.7,396.3 L501.0,395.8 L500.3,395.2 L499.6,394.7 L498.9,394.2 L498.2,393.7 L497.5,393.2 L496.8,392.7 L496.1,392.2 L495.4,391.8 L494.7,391.3 L494.0,390.8 L493.2,390.3 L492.5,389.9 L491.8,389.4 L491.0,389.0 L490.3,388.5 L489.6,388.1 L488.8,387.6 L488.1,387.2 L487.3,386.8 L486.5,386.4 L485.8,385.9 L485.0,385.5 L484.2,385.1 L483.5,384.7 L482.7,384.3 L481.9,383.9 L481.1,383.5 L480.3,383.1 L479.5,382.7 L478.7,382.4 L477.9,382.0 L477.1,381.6 L476.3,381.3 L475.5,380.9 L474.7,380.6 L473.9,380.2 L473.0,379.9 L472.2,379.5 L471.4,379.2 L470.5,378.9 L469.7,378.6 L468.9,378.3 L468.0,378.0 L467.2,377.7 L466.3,377.4 L465.5,377.2 L464.6,377.0 L463.8,376.8 L462.9,376.6 L462.0,376.4 L461.2,376.2 L460.3,376.1 L459.4,376.0 L458.6,375.9 L457.7,375.9 L456.9,375.9 L456.0,375.9 L455.1,375.9 L454.3,375.9 L453.4,376.0 L452.5,376.2 L451.7,376.3 L450.8,376.5 L449.9,376.7 L449.1,377.0 L448.2,377.3 L447.4,377.6 L446.5,378.0"/>
<path stroke="#4a4a4a" stroke-width="1.1" fill="none" d="M450.0,459.0 L450.4,459.6 L450.9,460.2 L451.3,460.8 L451.8,461.3 L452.2,461.9 L452.7,462.4 L453.2,462.9 L453.7,463.5 L454.2,464.0 L454.6,464.4 L455.1,464.9 L455.7,465.4 L456.2,465.8 L456.7,466.3 L457.2,466.7 L457.7,467.1 L458.3,467.5 L458.8,467.9 L459.4,468.3 L459.9,468.7 L460.5,469.0 L461.0,469.4 L461.6,469.7 L462.2,470.1 L462.8,470.4 L463.3,470.7 L463.9,471.0 L464.5,471.3 L465.1,471.6 L465.7,471.9 L466.3,472.1 L466.9,472.4 L467.5,472.7 L468.1,472.9 L468.8,473.2 L469.4,473.4 L470.0,473.6 L470.6,473.8 L471.3,474.1 L471.9,474.3 L472.6,474.5 L473.2,474.7 L473.8,474.8 L474.5,475.0 L475.1,475.2 L475.8,475.4 L476.5,475.6 L477.1,475.7 L477.8,475.9 L478.4,476.0 L479.1,476.2 L479.8,476.3 L480.4,476.5 L481.1,476.6 L481.8,476.8 L482.4,476.9 L483.1,477.0 L483.8,477.1 L484.5,477.2 L485.2,477.4 L485.8,477.5 L486.5,477.6 L487.2,477.7 L487.9,477.8 L488.6,477.8 L489.2,477.9 L489.9,478.0 L490.6,478.1 L491.3,478.1 L492.0,478.2 L492.7,478.2 L493.3,478.3 L494.0,478.3 L494.7,478.3 L495.4,478.3 L496.1,478.3 L496.8,478.3 L497.4,478.3 L498.1,478.3 L498.8,478.3 L499.5,478.3 L500.2,478.2 L500.8,478.2 L501.5,478.1 L502.2,478.0 L502.9,478.0 L503.5,477.9 L504.2,477.8 L504.9,477.7 L505.5,477.5 L506.2,477.4 L506.9,477.3 L507.5,477.1 L508.2,477.0 L508.9,476.8 L509.5,476.6 L510.2,476.4 L510.8,476.2 L511.5,476.0 L512.1,475.7 L512.7,475.5 L513.4,475.2 L514.0,474.9 L514.6,474.7 L515.3,474.4 L515.9,474.0 L516.5,473.7 L517.1,473.4 L517.6,473.0 L518.2,472.6 L518.7,472.2 L519.2,471.8 L519.7,471.4 L520.2,470.9 L520.6,470.5 L521.0,470.0 L521.4,469.5 L521.7,468.9 L522.0,468.4 L522.3,467.8 L522.5,467.2 L522.7,466.6 L522.9,466.0 L523.0,465.3 L523.2,464.7 L523.3,464.0 L523.3,463.3 L523.4,462.7 L523.4,462.0 L523.5,461.3 L523.5,460.6 L523.4,459.9 L523.4,459.2 L523.4,458.5 L523.3,457.8 L523.3,457.1 L523.2,456.4 L523.1,455.7 L523.0,455.0 L522.9,454.3 L522.8,453.6 L522.7,453.0 L522.5,452.3 L522.4,451.6 L522.2,450.9 L522.1,450.2 L521.9,449.6 L521.7,448.9 L521.6,448.2 L521.4,447.6 L521.2,446.9 L521.0,446.2 L520.8,445.6 L520.5,444.9 L520.3,444.3 L520.1,443.7 L519.9,443.0 L519.6,442.4 L519.4,441.7 L519.1,441.1 L518.9,440.5 L518.6,439.9 L518.3,439.3 L518.0,438.6 L517.8,438.0 L517.5,437.4 L517.2,436.8 L516.9,436.2 L516.6,435.6 L516.3,435.0 L515.9,434.4 L515.6,433.9 L515.3,433.3 L514.9,432.7 L514.6,432.1 L514.3,431.5 L513.9,431.0 L513.6,430.4 L513.2,429.8 L512.8,429.3 L512.5,428.7 L512.1,428.2 L511.7,427.6 L511.3,427.1 L510.9,426.5 L510.5,426.0 L510.1,425.5 L509.7,424.9 L509.3,424.4 L508.9,423.9 L508.5,423.3 L508.0,422.8 L507.6,422.3 L507.2,421.8 L506.7,421.3 L506.3,420.8 L505.9,420.3 L505.4,419.8 L504.9,419.3 L504.5,418.8 L504.0,418.3 L503.6,417.8 L503.1,417.3 L502.6,416.8 L502.1,416.4 L501.7,415.9 L501.2,415.4 L500.7,414.9 L500.2,414.5 L499.7,414.0 L499.2,413.6 L498.7,413.1 L498.2,412.7 L497.7,412.2 L497.2,411.8 L496.7,411.3 L496.1,410.9 L495.6,410.4 L495.1,410.0 L494.6,409.6 L494.0,409.2 L493.5,408.7 L493.0,408.3 L492.4,407.9 L491.9,407.5 L491.4,407.1 L490.8,406.7 L490.3,406.3 L489.7,405.9 L489.2,405.5 L488.6,405.1 L488.0,404.7 L487.5,404.3 L486.9,403.9 L486.4,403.5 L485.8,403.1 L485.2,402.8 L484.6,402.4 L484.1,402.0 L483.5,401.6 L482.9,401.3 L482.3,400.9 L481.8,400.6 L481.2,400.2 L480.6,399.9 L480.0,399.5 L479.4,399.2 L478.8,398.8 L478.2,398.5 L477.6,398.2 L477.0,397.8 L476.4,397.5 L475.8,397.2 L475.2,396.9 L474.6,396.6 L474.0,396.2 L473.4,395.9 L472.8,395.6 L472.2,395.3 L471.6,395.0 L471.0,394.8 L470.4,394.5 L469.8,394.2 L469.2,393.9 L468.5,393.7 L467.9,393.4 L467.3,393.2 L466.7,392.9 L466.0,392.7 L465.4,392.5 L464.8,392.3 L464.1,392.1 L463.5,391.9 L462.9,391.7 L462.2,391.5 L461.6,391.4 L460.9,391.2 L460.3,391.1 L459.6,391.0 L459.0,390.9 L458.3,390.8 L457.7,390.7 L457.0,390.6 L456.3,390.6 L455.7,390.6 L455.0,390.6 L454.3,390.6 L453.7,390.6 L453.0,390.6 L452.3,390.7 L451.6,390.7 L450.9,390.8 L450.2,390.9 L449.5,391.1 L448.8,391.2 L448.1,391.4 L447.4,391.6 L446.7,391.8 L446.0,392.0"/>
<path stroke="#4a4a4a" stroke-width="1.1" fill="none" d="M446.5,378 Q434.5,386.5 442.5,391 M448,377.7 Q436.8,384.3 445,391.6 M449.5,377.4 Q439.8,384.3 447.8,392"/>
<path stroke="#4a4a4a" stroke-width="1" fill="none" d="M439.1,476.2 Q447.8,470.1 450.6,459.8"/>
<path stroke="#4a4a4a" stroke-width="1" fill="none" d="M444.3,478.8 Q451.9,473.0 453.9,463.7"/>
<path stroke="#4a4a4a" stroke-width="1" fill="none" d="M448.9,481.1 Q455.8,475.5 457.2,466.7"/>
<path stroke="#4a4a4a" stroke-width="1" fill="none" d="M453.2,483.1 Q459.6,477.5 460.5,469.1"/>
<path stroke="#4a4a4a" stroke-width="1" fill="none" d="M457.3,485.0 Q463.4,479.3 463.9,471.0"/>
<path stroke="#4a4a4a" stroke-width="1" fill="none" d="M461.4,486.7 Q467.2,480.9 467.3,472.6"/>
<path stroke="#4a4a4a" stroke-width="1" fill="none" d="M465.5,488.3 Q471.2,482.2 470.8,473.9"/>
<path stroke="#4a4a4a" stroke-width="1" fill="none" d="M469.6,489.8 Q475.2,483.4 474.4,475.0"/>
<path stroke="#4a4a4a" stroke-width="1" fill="none" d="M473.9,491.1 Q479.3,484.4 478.0,475.9"/>
<path stroke="#4a4a4a" stroke-width="1" fill="none" d="M478.3,492.3 Q483.5,485.3 481.7,476.7"/>
<path stroke="#4a4a4a" stroke-width="1" fill="none" d="M482.9,493.3 Q487.7,485.9 485.4,477.4"/>
<path stroke="#4a4a4a" stroke-width="1" fill="none" d="M487.5,494.0 Q492.1,486.4 489.2,477.9"/>
<path stroke="#4a4a4a" stroke-width="1" fill="none" d="M492.3,494.5 Q496.5,486.5 493.0,478.2"/>
<path stroke="#4a4a4a" stroke-width="1" fill="none" d="M497.1,494.5 Q500.8,486.4 496.8,478.3"/>
<path stroke="#4a4a4a" stroke-width="1" fill="none" d="M502.0,494.3 Q505.2,485.9 500.5,478.2"/>
<path stroke="#4a4a4a" stroke-width="1" fill="none" d="M506.8,493.5 Q509.4,485.0 504.2,477.8"/>
<path stroke="#4a4a4a" stroke-width="1" fill="none" d="M511.5,492.2 Q513.4,483.7 507.7,477.1"/>
<path stroke="#4a4a4a" stroke-width="1" fill="none" d="M516.0,490.4 Q517.2,482.0 511.0,476.1"/>
<path stroke="#4a4a4a" stroke-width="1" fill="none" d="M520.2,488.3 Q520.6,480.0 514.0,474.9"/>
<path stroke="#4a4a4a" stroke-width="1" fill="none" d="M524.4,486.0 Q523.8,477.8 516.6,473.6"/>
<path stroke="#4a4a4a" stroke-width="1" fill="none" d="M528.7,483.2 Q526.7,475.0 518.8,472.2"/>
<path stroke="#4a4a4a" stroke-width="1" fill="none" d="M532.7,479.4 Q529.0,471.6 520.5,470.6"/>
<path stroke="#4a4a4a" stroke-width="1" fill="none" d="M535.6,474.7 Q530.5,467.8 522.0,468.5"/>
<path stroke="#4a4a4a" stroke-width="1" fill="none" d="M537.4,469.8 Q531.3,463.7 522.9,465.8"/>
<path stroke="#4a4a4a" stroke-width="1" fill="none" d="M538.4,464.9 Q531.5,459.5 523.4,462.8"/>
<path stroke="#4a4a4a" stroke-width="1" fill="none" d="M538.8,460.0 Q531.3,455.3 523.4,459.6"/>
<path stroke="#4a4a4a" stroke-width="1" fill="none" d="M538.8,455.2 Q530.7,451.1 523.2,456.2"/>
<path stroke="#4a4a4a" stroke-width="1" fill="none" d="M538.3,450.5 Q529.8,446.9 522.6,452.7"/>
<path stroke="#4a4a4a" stroke-width="1" fill="none" d="M537.4,445.7 Q528.5,442.8 521.8,449.3"/>
<path stroke="#4a4a4a" stroke-width="1" fill="none" d="M536.1,441.1 Q527.0,438.7 520.8,445.8"/>
<path stroke="#4a4a4a" stroke-width="1" fill="none" d="M534.4,436.6 Q525.2,434.9 519.6,442.4"/>
<path stroke="#4a4a4a" stroke-width="1" fill="none" d="M532.5,432.3 Q523.2,431.1 518.2,439.0"/>
<path stroke="#4a4a4a" stroke-width="1" fill="none" d="M530.3,428.2 Q521.0,427.5 516.6,435.7"/>
<path stroke="#4a4a4a" stroke-width="1" fill="none" d="M527.9,424.2 Q518.7,424.1 514.8,432.5"/>
<path stroke="#4a4a4a" stroke-width="1" fill="none" d="M525.4,420.5 Q516.2,420.8 512.9,429.3"/>
<path stroke="#4a4a4a" stroke-width="1" fill="none" d="M522.8,417.0 Q513.6,417.6 510.7,426.3"/>
<path stroke="#4a4a4a" stroke-width="1" fill="none" d="M520.0,413.6 Q510.9,414.6 508.5,423.4"/>
<path stroke="#4a4a4a" stroke-width="1" fill="none" d="M517.1,410.4 Q508.1,411.7 506.1,420.5"/>
<path stroke="#4a4a4a" stroke-width="1" fill="none" d="M514.2,407.3 Q505.2,408.9 503.6,417.8"/>
<path stroke="#4a4a4a" stroke-width="1" fill="none" d="M511.2,404.3 Q502.2,406.2 500.9,415.2"/>
<path stroke="#4a4a4a" stroke-width="1" fill="none" d="M508.1,401.5 Q499.2,403.6 498.2,412.7"/>
<path stroke="#4a4a4a" stroke-width="1" fill="none" d="M504.9,398.8 Q496.0,401.1 495.4,410.3"/>
<path stroke="#4a4a4a" stroke-width="1" fill="none" d="M501.6,396.2 Q492.8,398.7 492.5,407.9"/>
<path stroke="#4a4a4a" stroke-width="1" fill="none" d="M498.3,393.7 Q489.5,396.5 489.5,405.7"/>
<path stroke="#4a4a4a" stroke-width="1" fill="none" d="M494.8,391.4 Q486.1,394.4 486.5,403.6"/>
<path stroke="#4a4a4a" stroke-width="1" fill="none" d="M491.3,389.1 Q482.7,392.4 483.4,401.6"/>
<path stroke="#4a4a4a" stroke-width="1" fill="none" d="M487.7,387.0 Q479.2,390.5 480.3,399.7"/>
<path stroke="#4a4a4a" stroke-width="1" fill="none" d="M484.1,385.0 Q475.6,388.8 477.1,397.9"/>
<path stroke="#4a4a4a" stroke-width="1" fill="none" d="M480.4,383.2 Q472.1,387.2 473.9,396.2"/>
<path stroke="#4a4a4a" stroke-width="1" fill="none" d="M476.7,381.4 Q468.5,385.7 470.7,394.6"/>
<path stroke="#4a4a4a" stroke-width="1" fill="none" d="M472.8,379.8 Q464.8,384.4 467.5,393.2"/>
<path stroke="#4a4a4a" stroke-width="1" fill="none" d="M468.8,378.2 Q461.0,383.4 464.3,392.1"/>
<path stroke="#4a4a4a" stroke-width="1" fill="none" d="M464.5,376.9 Q457.0,382.8 461.2,391.3"/>
<path stroke="#4a4a4a" stroke-width="1" fill="none" d="M459.9,376.1 Q453.0,382.7 458.1,390.8"/>
<path stroke="#4a4a4a" stroke-width="1" fill="none" d="M455.0,375.9 Q449.0,383.3 455.2,390.6"/>
<path stroke="#4a4a4a" stroke-width="1" fill="none" d="M450.0,376.7 Q445.4,384.7 452.4,390.7"/>
</svg></body></html>
